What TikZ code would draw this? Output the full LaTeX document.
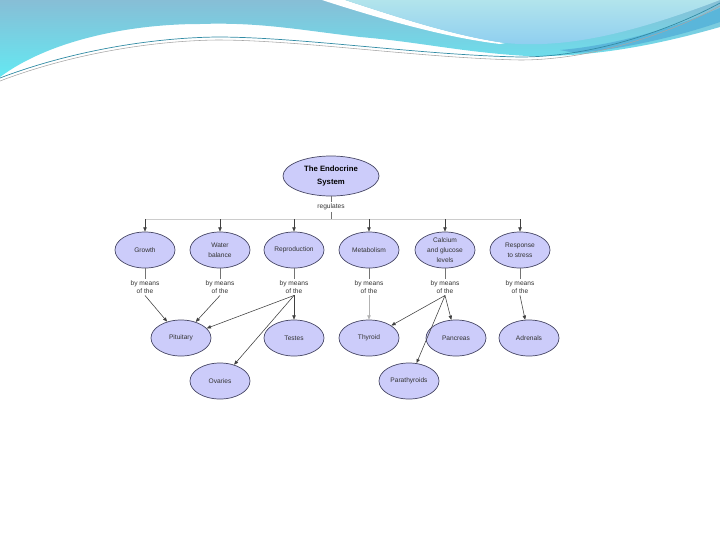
\documentclass[tikz,border=0pt]{standalone}
\usepackage{fontspec}
\setmainfont{Liberation Sans}
\usetikzlibrary{shapes.geometric,arrows.meta}
\definecolor{bubble}{RGB}{204,204,250}
\definecolor{rim}{RGB}{70,70,100}
\definecolor{waveA}{RGB}{135,190,214}
\definecolor{waveB}{RGB}{100,232,242}
\definecolor{waveC}{RGB}{178,228,236}
\definecolor{waveD}{RGB}{140,205,240}
\definecolor{waveE}{RGB}{90,182,218}
\definecolor{waveline}{RGB}{50,140,165}

\begin{document}
\begin{tikzpicture}[x=0.025cm, y=-0.025cm,
  every node/.style={font=\fontsize{4.7}{7}\selectfont, text=black!80},
  concept/.style={ellipse, draw=rim, line width=.5pt, fill=bubble,
    minimum width=1.5cm, minimum height=.9cm, inner sep=0pt, align=center},
  link/.style={align=center, inner sep=1pt, font=\fontsize{4.7}{6.2}\selectfont},
  tip/.style={-{Triangle[length=3pt,width=2.4pt]}, black!75, line width=.4pt}]
  \useasboundingbox (0,0) rectangle (720,540);

  % header wave
  \shade[top color=waveA, bottom color=waveB]
    (0,0) -- (720,0) -- (720,27) .. controls (640,50) and (580,57) .. (527,56)
    .. controls (460,52) and (420,42) .. (360,37)
    .. controls (300,30) and (260,22) .. (200,24)
    .. controls (130,24) and (50,40) .. (0,77) -- cycle;
  \fill[white] (322,0) .. controls (390,22) and (450,38) .. (500,44)
    -- (505,43) .. controls (455,36) and (400,18) .. (345,0) -- cycle;
  \shade[top color=waveC, bottom color=waveD]
    (345,0) .. controls (400,18) and (455,36) .. (505,43)
    .. controls (560,48) and (620,38) .. (720,0) -- cycle;
  \fill[waveE] (560,50) .. controls (620,45) and (680,25) .. (720,8)
    -- (720,22) .. controls (680,36) and (620,50) .. (575,53) -- cycle;
  \draw[waveline, line width=.5pt]
    (0,78) .. controls (60,55) and (140,38) .. (217,37)
    .. controls (300,37) and (420,55) .. (520,57)
    .. controls (600,57) and (680,25) .. (720,3);
  \draw[black!35, line width=.4pt]
    (0,81) .. controls (60,58) and (140,41) .. (217,40)
    .. controls (300,40) and (420,58) .. (520,60)
    .. controls (600,60) and (680,28) .. (720,6);

  % concepts
  \node[concept, minimum width=2.4cm, minimum height=1cm, text=black,
    font=\fontsize{5.5}{9}\selectfont\bfseries]
    (sys) at (331,176) {The Endocrine\\System};
  \node[link] (reg) at (331,207) {regulates};

  \node[concept] (grow)  at (145,250) {Growth};
  \node[concept] (water) at (220,250) {Water\\balance};
  \node[concept] (repro) at (294,250) {Reproduction};
  \node[concept] (metab) at (369,250) {Metabolism};
  \node[concept] (calc)  at (445,250) {Calcium\\and glucose\\levels};
  \node[concept] (resp)  at (520,250) {Response\\to stress};

  \node[link] (bg) at (145,287) {by means\\of the};
  \node[link] (bw) at (220,287) {by means\\of the};
  \node[link] (br) at (294,287) {by means\\of the};
  \node[link] (bm) at (369,287) {by means\\of the};
  \node[link] (bc) at (445,287) {by means\\of the};
  \node[link] (bs) at (520,287) {by means\\of the};

  \node[concept] (pit)  at (181,338) {Pituitary};
  \node[concept] (test) at (294,338) {Testes};
  \node[concept] (thy)  at (369,338) {Thyroid};
  \node[concept] (panc) at (456,338) {Pancreas};
  \node[concept] (adr)  at (529,338) {Adrenals};
  \node[concept] (ova)  at (220,381) {Ovaries};
  \node[concept] (para) at (409,381) {Parathyroids};

  % bus
  \coordinate (B0) at (331,219);
  \coordinate (BL) at (145,219);
  \coordinate (BR) at (520,219);
  \draw[black!55, line width=.4pt] (sys) -- (reg) (reg) -- (B0);
  \draw[black!20, line width=.5pt] (BL) -- (BR);
  \foreach \n in {grow,water,repro,metab,calc,resp}
    \draw[tip] (\n |- B0) -- (\n);

  % links
  \foreach \a/\b in {grow/bg,water/bw,repro/br,metab/bm,calc/bc,resp/bs}
    \draw[black!55, line width=.4pt] (\a) -- (\b);
  \draw[tip] (bg.south) -- (pit);
  \draw[tip] (bw.south) -- (pit);
  \draw[tip] (br.south) -- (pit);
  \draw[tip] (br.south) -- (test);
  \draw[tip] (br.south) -- (ova);
  \draw[tip, black!30] (bm.south) -- (thy);
  \draw[tip] (bc.south) -- (thy);
  \draw[tip] (bc.south) -- (panc);
  \draw[tip] (bc.south) -- (para);
  \draw[tip] (bs.south) -- (adr);
\end{tikzpicture}
\end{document}
